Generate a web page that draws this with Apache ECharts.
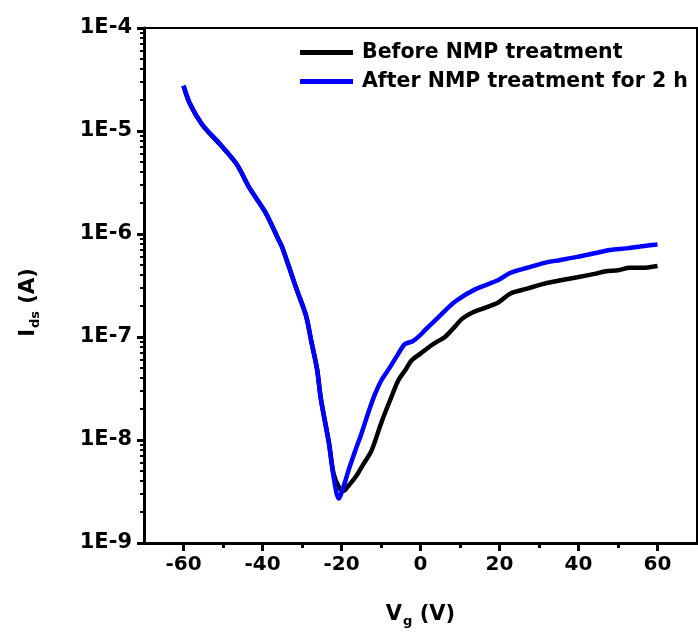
<!DOCTYPE html>
<html><head><meta charset="utf-8">
<script src="https://cdn.jsdelivr.net/npm/echarts@6/dist/echarts.min.js"></script>
<style>html,body{margin:0;padding:0;background:#fff}#c{width:698px;height:635px}</style>
</head><body><div id="c"></div>
<script>
// Before NMP treatment (black)
const vgBefore = [-60,-58.4,-55.2,-50.9,-46.6,-43.3,-39.1,-36,-35,-33.3,-31.5,-29,-27.7,-26.2,-25.2,-23.2,-22,-20.5,-19.5,-18.5,-16.4,-14.5,-12.4,-9.9,-7.4,-5.6,-3.8,-2.3,0,2,4,6.2,8.7,10.5,12.8,16,19.6,22.8,27,31.4,35.5,39.7,44,47,50,53,56,60];
const idsBefore = [2.75e-5,1.84e-5,1.14e-5,7.5e-6,4.8e-6,2.8e-6,1.58e-6,8.9e-7,7.4e-7,4.8e-7,3.0e-7,1.62e-7,9.3e-8,4.9e-8,2.5e-8,9.6e-9,4.7e-9,3.4e-9,3.2e-9,3.5e-9,4.4e-9,5.8e-9,7.9e-9,1.48e-8,2.6e-8,3.8e-8,4.8e-8,5.9e-8,6.9e-8,7.9e-8,8.9e-8,1.0e-7,1.26e-7,1.5e-7,1.7e-7,1.9e-7,2.15e-7,2.65e-7,2.95e-7,3.3e-7,3.55e-7,3.8e-7,4.1e-7,4.35e-7,4.45e-7,4.7e-7,4.7e-7,4.9e-7];
// After NMP treatment for 2 h (blue)
const vgAfter = [-60,-58.4,-55.2,-50.9,-46.6,-43.3,-39.1,-36,-35,-33.3,-31.5,-29,-27.7,-26.2,-25.2,-23.2,-22,-20.7,-19.5,-18.2,-16.5,-14.9,-13.1,-11.5,-9.9,-8,-5.6,-4,-2,0,1.2,4.5,8.7,13.8,19.6,22.8,27,31.4,35.5,39.7,44,48,52,56,60];
const idsAfter = [2.75e-5,1.86e-5,1.15e-5,7.6e-6,4.8e-6,2.8e-6,1.58e-6,8.9e-7,7.4e-7,4.8e-7,3.0e-7,1.62e-7,9.3e-8,4.9e-8,2.45e-8,9.3e-9,4.4e-9,2.7e-9,3.5e-9,5.1e-9,7.9e-9,1.17e-8,1.9e-8,2.8e-8,3.8e-8,4.9e-8,6.9e-8,8.5e-8,9.1e-8,1.05e-7,1.17e-7,1.55e-7,2.2e-7,2.9e-7,3.55e-7,4.2e-7,4.7e-7,5.25e-7,5.6e-7,6.0e-7,6.5e-7,7.0e-7,7.25e-7,7.6e-7,7.9e-7];
const seriesNames = ['Before NMP treatment','After NMP treatment for 2 h'];
const xMajorTicks = [-60,-40,-20,0,20,40,60];
const xMinorTicks = [-50,-30,-10,10,30,50];
const yDecades = [-9,-8,-7,-6,-5,-4];
const yMinorMult = [2,3,4,5,6,7,8,9];

const FONT = 'DejaVu Sans';
const yMinorLog = [];
yDecades.slice(0,-1).forEach(d => yMinorMult.forEach(m => yMinorLog.push(d + Math.log10(m))));

const chart = echarts.init(document.getElementById('c'));
chart.setOption({
  animation: false,
  backgroundColor: '#fff',
  grid: {left: 144, top: 28, right: 1, bottom: 92, show: true, borderColor: '#000', borderWidth: 2},
  legend: {
    orient: 'vertical', left: 295, top: 37, itemWidth: 53, itemHeight: 5, itemGap: 8, icon: 'rect',
    textStyle: {fontFamily: FONT, fontWeight: 'bold', fontSize: 20.5, color: '#000', padding: [0,0,0,4]},
    data: seriesNames
  },
  xAxis: [{
    type: 'value', min: -70, max: 70, interval: 10,
    axisLine: {onZero: false, lineStyle: {color: '#000', width: 3}},
    axisTick: {customValues: xMajorTicks, length: 8, lineStyle: {color: '#000', width: 3}},
    axisLabel: {customValues: xMajorTicks, color: '#000', fontFamily: FONT, fontWeight: 'bold', fontSize: 20, margin: 12},
    splitLine: {show: false},
    name: '{m|V}{s|g}{m| (V)}', nameLocation: 'middle', nameGap: 58,
    nameTextStyle: {rich: {m: {fontFamily: FONT, fontWeight: 'bold', fontSize: 21, color: '#000'}, s: {fontFamily: FONT, fontWeight: 'bold', fontSize: 13, color: '#000', verticalAlign: 'bottom', padding: [14,0,0,1]}}}
  }, {
    type: 'value', min: -70, max: 70, interval: 10, position: 'bottom',
    axisLine: {show: false, onZero: false},
    axisTick: {customValues: xMinorTicks, length: 5, lineStyle: {color: '#000', width: 3}},
    axisLabel: {show: false}, splitLine: {show: false}
  }],
  yAxis: [{
    type: 'log', logBase: 10, min: 1e-9, max: 1e-4,
    axisLine: {show: true, onZero: false, lineStyle: {color: '#000', width: 3}},
    axisTick: {show: true, length: 7, lineStyle: {color: '#000', width: 3}},
    axisLabel: {color: '#000', fontFamily: FONT, fontWeight: 'bold', fontSize: 21, margin: 12,
      formatter: v => '1E' + Math.round(Math.log10(v))},
    splitLine: {show: false}, minorTick: {show: false},
    name: '{m|I}{s|ds}{m| (A)}', nameLocation: 'middle', nameGap: 102,
    nameTextStyle: {padding: [0,34,0,0], rich: {m: {fontFamily: FONT, fontWeight: 'bold', fontSize: 21, color: '#000'}, s: {fontFamily: FONT, fontWeight: 'bold', fontSize: 13, color: '#000', verticalAlign: 'bottom', padding: [14,0,0,1]}}}
  }, {
    type: 'value', min: -9, max: -4, position: 'left',
    axisLine: {show: false, onZero: false},
    axisTick: {show: true, customValues: yMinorLog, length: 4, lineStyle: {color: '#000', width: 2}},
    axisLabel: {show: false}, splitLine: {show: false}
  }],
  series: [{
    name: seriesNames[0], type: 'line', xAxisIndex: 0, yAxisIndex: 0, showSymbol: false, smooth: 0.3,
    lineStyle: {color: '#000', width: 4.5}, itemStyle: {color: '#000'},
    data: vgBefore.map((v, i) => [v, idsBefore[i]])
  }, {
    name: seriesNames[1], type: 'line', xAxisIndex: 0, yAxisIndex: 0, showSymbol: false, smooth: 0.3,
    lineStyle: {color: '#0000ff', width: 4.5}, itemStyle: {color: '#0000ff'},
    data: vgAfter.map((v, i) => [v, idsAfter[i]])
  }]
});
</script></body></html>
